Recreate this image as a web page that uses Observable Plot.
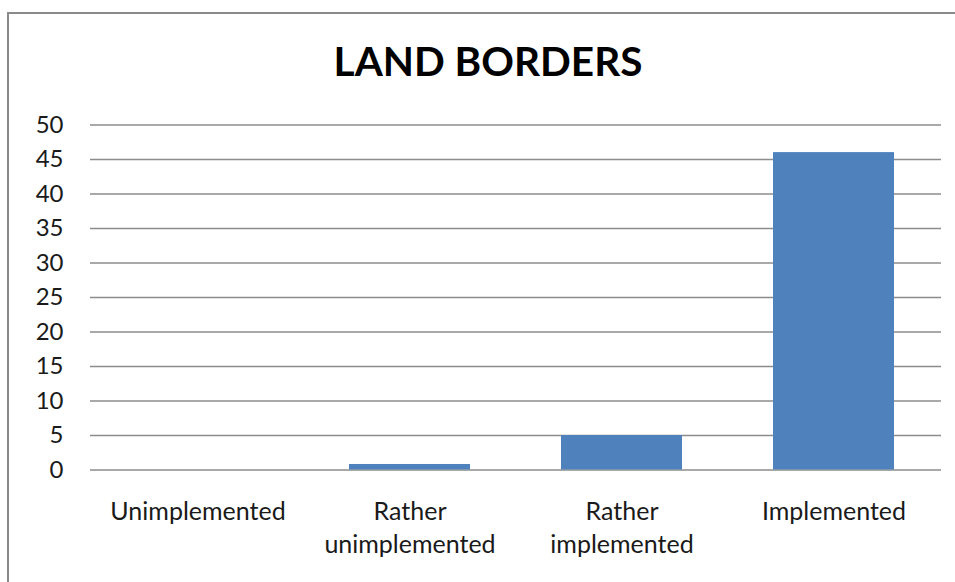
<!DOCTYPE html>
<html>
<head>
<meta charset="utf-8">
<script src="https://cdn.jsdelivr.net/npm/d3@7"></script>
<script src="https://cdn.jsdelivr.net/npm/@observablehq/plot@0.6"></script>
<style>
  html, body { margin: 0; padding: 0; background: #fff; }
  #wrap { position: relative; width: 955px; height: 582px; overflow: hidden; font-family: Lato, "Open Sans", sans-serif; }
  #frame { position: absolute; left: 7px; top: 12px; width: 1000px; height: 700px; border: 2px solid #8a8a8a; box-sizing: border-box; }
  #title { position: absolute; left: 0; width: 976px; top: 37px; text-align: center; font-weight: 700; font-size: 40.5px; color: #000; line-height: 48px; }
  #chart { position: absolute; left: 0; top: 0; }
</style>
</head>
<body>
<div id="wrap">
  <div id="frame"></div>
  <div id="title">LAND BORDERS</div>
  <div id="chart"></div>
</div>
<script>
const categories = ["Unimplemented", "Rather\nunimplemented", "Rather\nimplemented", "Implemented"];
const values = [0, 0.8, 5, 46];
const yTicks = [0, 5, 10, 15, 20, 25, 30, 35, 40, 45, 50];

const data = categories.map((c, i) => ({category: c, value: values[i]}));

const chart = Plot.plot({
  width: 955,
  height: 582,
  marginLeft: 90,
  marginRight: 14,
  marginTop: 124.5,
  marginBottom: 112.5,
  style: {fontFamily: "Lato, 'Open Sans', sans-serif", fontSize: "24px", color: "#1a1a1a", background: "transparent"},
  x: {domain: categories, paddingInner: 0.428, paddingOuter: 0.214, label: null},
  y: {domain: [0, 50], label: null},
  marks: [
    Plot.gridY(yTicks, {stroke: "#8c8c8c", strokeOpacity: 1, strokeWidth: 1.3}),
    Plot.barY(data, {x: "category", y: "value", fill: "#4F81BD"}),
    Plot.axisY(yTicks, {tickSize: 0, tickPadding: 27, fontSize: 24, label: null}),
    Plot.axisX({tickSize: 0, tickPadding: 27, fontSize: 25, lineHeight: 1.32, label: null})
  ]
});
document.getElementById("chart").appendChild(chart);
</script>
</body>
</html>
